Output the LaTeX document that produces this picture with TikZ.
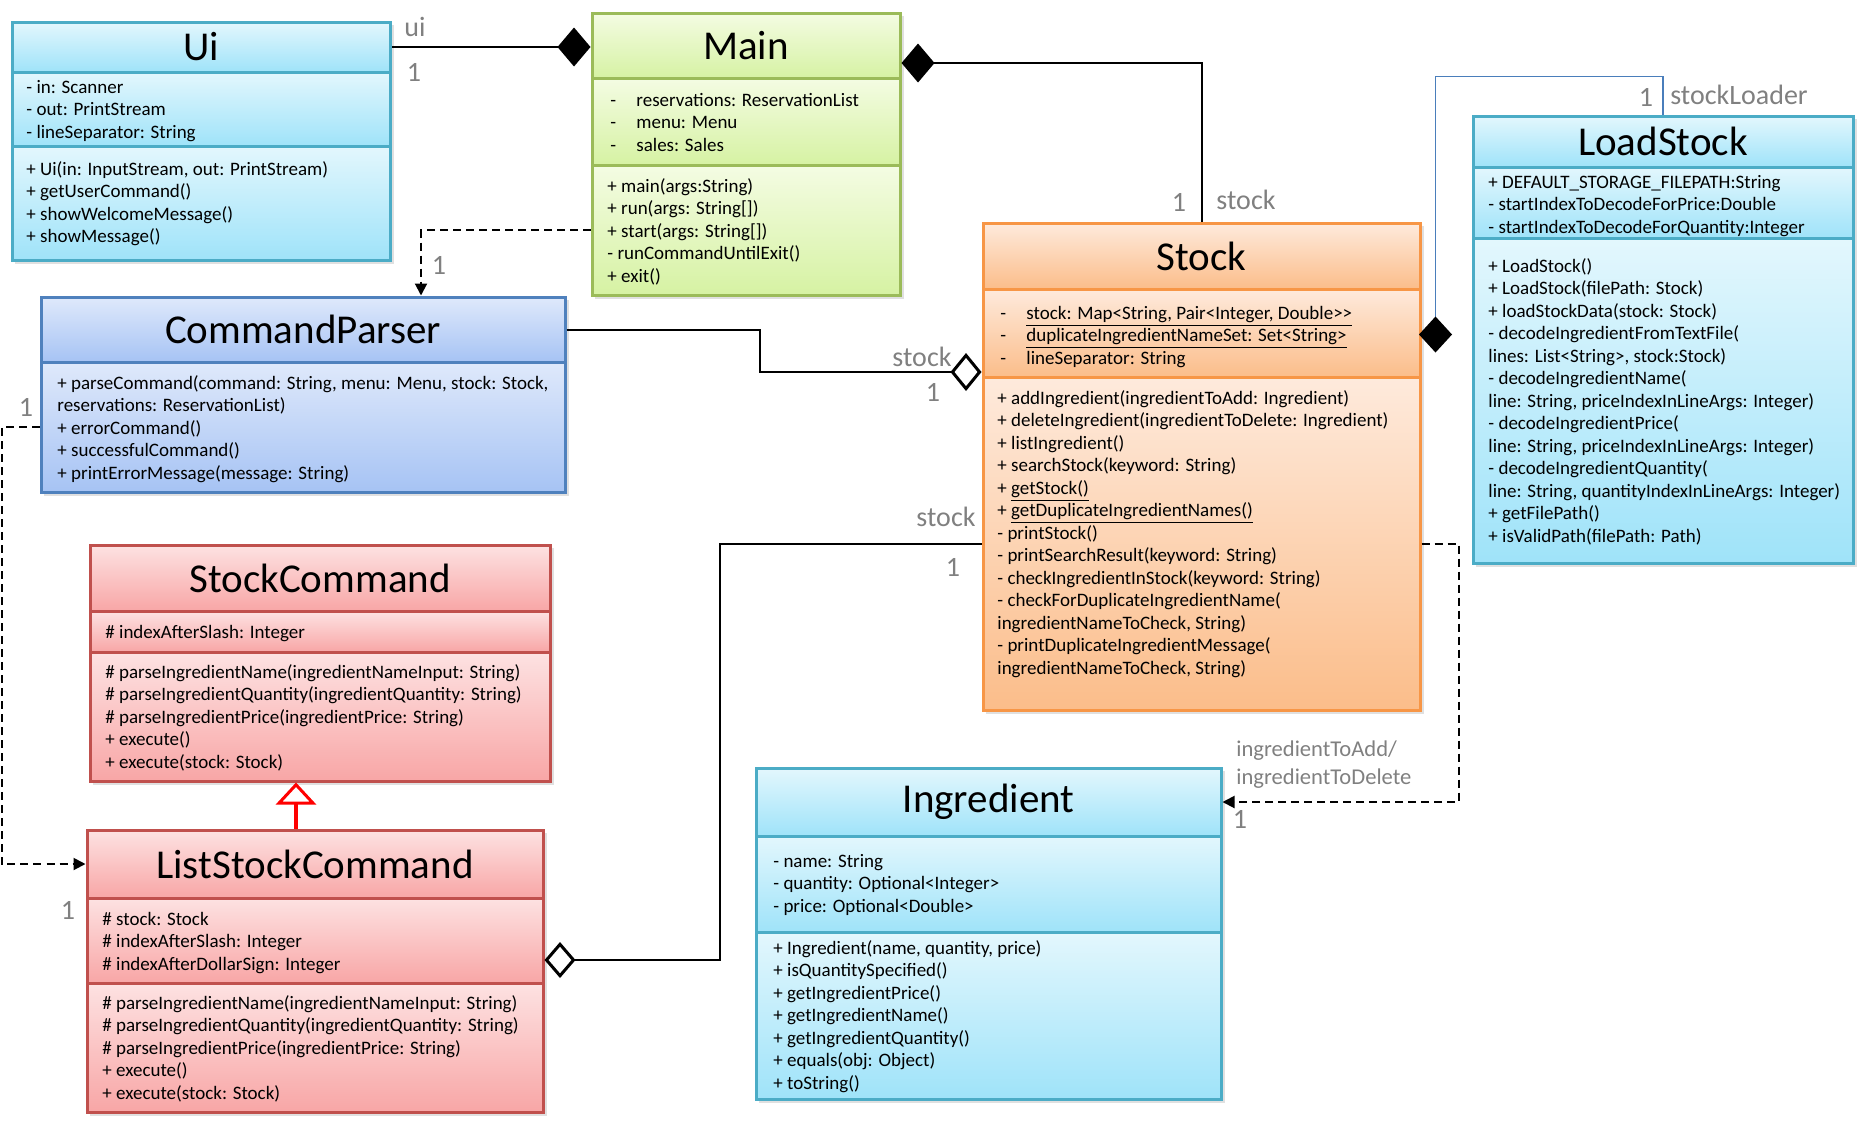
\documentclass[tikz,border=0pt]{standalone}
\usepackage{fontspec}
\setmainfont{Carlito}
\usetikzlibrary{arrows.meta,fit}
\definecolor{cyB}{HTML}{4BACC6}\definecolor{cyT}{HTML}{E3F7FD}\definecolor{cyBo}{HTML}{9FE3F9}
\definecolor{grB}{HTML}{9BBB59}\definecolor{grT}{HTML}{F4FCE3}\definecolor{grBo}{HTML}{D6F2A3}
\definecolor{blB}{HTML}{4F81BD}\definecolor{blT}{HTML}{DFE9FB}\definecolor{blBo}{HTML}{A6C3F4}
\definecolor{rdB}{HTML}{C0504D}\definecolor{rdT}{HTML}{FDE2E2}\definecolor{rdBo}{HTML}{F8A6A6}
\definecolor{orB}{HTML}{F79646}\definecolor{orT}{HTML}{FEEADC}\definecolor{orBo}{HTML}{FBBD8A}
\definecolor{lblgray}{HTML}{808080}
\definecolor{lineblue}{HTML}{4A7EBB}
\newcommand\mlist[4]{\foreach \t [count=\i from 0] in {#4} {\node[member] (#1\i) at (#2, #3+6+\i*22.5) {\t};}}
\newcommand\dsh{\makebox[13pt][l]{-}}
\begin{document}
\begin{tikzpicture}[x=0.5pt,y=-0.5pt,
  sec/.style={draw, line width=1.5pt, inner sep=0pt},
  cysec/.style={sec, draw=cyB, top color=cyT, bottom color=cyBo},
  grsec/.style={sec, draw=grB, top color=grT, bottom color=grBo},
  blsec/.style={sec, draw=blB, top color=blT, bottom color=blBo},
  rdsec/.style={sec, draw=rdB, top color=rdT, bottom color=rdBo},
  orsec/.style={sec, draw=orB, top color=orT, bottom color=orBo},
  ttl/.style={inner sep=0pt, font=\fontsize{20.5}{24}\selectfont},
  member/.style={anchor=base west, inner sep=0pt, font=\fontsize{9.5}{11}\selectfont},
  lbl/.style={inner sep=0pt, text=lblgray, font=\fontsize{14}{16}\selectfont},
  slbl/.style={inner sep=0pt, text=lblgray, font=\fontsize{11.3}{14}\selectfont, anchor=west},
  shad/.style={fill=black, fill opacity=0.12},
  conn/.style={line width=1pt, draw=black},
  dep/.style={conn, dash pattern=on 4pt off 2.5pt, -{Triangle[length=6pt,width=6pt]}},
  inh/.style={line width=2.3pt, draw=red, -{Triangle[open,length=11pt,width=20pt,line width=1.5pt]}}
]
\useasboundingbox (0,0) rectangle (1861,1126);
% shadows
\fill[shad] (15,25) rectangle (394,264);
\fill[shad] (595,16) rectangle (904,299);
\fill[shad] (44,300) rectangle (569,496);
\fill[shad] (93,548) rectangle (554,785);
\fill[shad] (90,833) rectangle (547,1116);
\fill[shad] (986,226) rectangle (1424,714);
\fill[shad] (1476,119) rectangle (1857,567);
\fill[shad] (759,771) rectangle (1225,1103);
% Ui
\node[cysec, fit={(12,22)(390,72)}] (uiT) {};
\node[cysec, fit={(12,72)(390,146)}] (uiA) {};
\node[cysec, fit={(12,146)(390,260)}] (uiM) {};
\node[ttl] (uiTt) at (uiT.center) {Ui};
\mlist{uia}{26}{87}{{- in: Scanner},{- out: PrintStream},{- lineSeparator: String}}
\mlist{uim}{26}{169}{{+ Ui(in: InputStream, out: PrintStream)},{+ getUserCommand()},{+ showWelcomeMessage()},{+ showMessage()}}
% Main
\node[grsec, fit={(592,13)(900,78)}] (mainT) {};
\node[grsec, fit={(592,78)(900,165)}] (mainA) {};
\node[grsec, fit={(592,165)(900,295)}] (mainM) {};
\node[ttl] (mainTt) at (mainT.center) {Main};
\mlist{maina}{610}{100}{{\dsh reservations: ReservationList},{\dsh menu: Menu},{\dsh sales: Sales}}
\mlist{mainm}{607}{186}{{+ main(args:String)},{+ run(args: String[])},{+ start(args: String[])},{- runCommandUntilExit()},{+ exit()}}
% CommandParser
\node[blsec, fit={(41,297)(565,362)}] (cpT) {};
\node[blsec, fit={(41,362)(565,492)}] (cpM) {};
\node[ttl] (cpTt) at (cpT.center) {CommandParser};
\mlist{cpm}{57}{383}{{+ parseCommand(command: String, menu: Menu, stock: Stock,},{reservations: ReservationList)},{+ errorCommand()},{+ successfulCommand()},{+ printErrorMessage(message: String)}}
% StockCommand
\node[rdsec, fit={(90,545)(550,611)}] (scT) {};
\node[rdsec, fit={(90,611)(550,652)}] (scA) {};
\node[rdsec, fit={(90,652)(550,781)}] (scM) {};
\node[ttl] (scTt) at (scT.center) {StockCommand};
\mlist{sca}{105}{632}{{\# indexAfterSlash: Integer}}
\mlist{scm}{105}{672}{{\# parseIngredientName(ingredientNameInput: String)},{\# parseIngredientQuantity(ingredientQuantity: String)},{\# parseIngredientPrice(ingredientPrice: String)},{+ execute()},{+ execute(stock: Stock)}}
% ListStockCommand
\node[rdsec, fit={(87,830)(543,898)}] (lscT) {};
\node[rdsec, fit={(87,898)(543,983)}] (lscA) {};
\node[rdsec, fit={(87,983)(543,1112)}] (lscM) {};
\node[ttl] (lscTt) at (lscT.center) {ListStockCommand};
\mlist{lsca}{102}{919}{{\# stock: Stock},{\# indexAfterSlash: Integer},{\# indexAfterDollarSign: Integer}}
\mlist{lscm}{102}{1003}{{\# parseIngredientName(ingredientNameInput: String)},{\# parseIngredientQuantity(ingredientQuantity: String)},{\# parseIngredientPrice(ingredientPrice: String)},{+ execute()},{+ execute(stock: Stock)}}
% Stock
\node[orsec, fit={(983,223)(1420,289)}] (stockT) {};
\node[orsec, fit={(983,289)(1420,377)}] (stockA) {};
\node[orsec, fit={(983,377)(1420,710)}] (stockM) {};
\node[ttl] (stockTt) at (stockT.center) {Stock};
\mlist{stocka}{1000}{313}{{\dsh\underline{stock: Map<String, Pair<Integer, Double>{}>}},{\dsh\underline{duplicateIngredientNameSet: Set<String>}},{\dsh lineSeparator: String}}
\mlist{stockm}{997}{398}{{+ addIngredient(ingredientToAdd: Ingredient)},{+ deleteIngredient(ingredientToDelete: Ingredient)},{+ listIngredient()},{+ searchStock(keyword: String)},{+ \underline{getStock()}},{+ \underline{getDuplicateIngredientNames()}},{- printStock()},{- printSearchResult(keyword: String)},{- checkIngredientInStock(keyword: String)},{- checkForDuplicateIngredientName(},{ingredientNameToCheck, String)},{- printDuplicateIngredientMessage(},{ingredientNameToCheck, String)}}
% LoadStock
\node[cysec, fit={(1473,116)(1853,167)}] (lsT) {};
\node[cysec, fit={(1473,167)(1853,238)}] (lsA) {};
\node[cysec, fit={(1473,238)(1853,563)}] (lsM) {};
\node[ttl] (lsTt) at (lsT.center) {LoadStock};
\mlist{lsa}{1488}{182}{{+ DEFAULT\_STORAGE\_FILEPATH:String},{- startIndexToDecodeForPrice:Double},{- startIndexToDecodeForQuantity:Integer}}
\mlist{lsm}{1488}{266}{{+ LoadStock()},{+ LoadStock(filePath: Stock)},{+ loadStockData(stock: Stock)},{- decodeIngredientFromTextFile(},{lines: List<String>, stock:Stock)},{- decodeIngredientName(},{line: String, priceIndexInLineArgs: Integer)},{- decodeIngredientPrice(},{line: String, priceIndexInLineArgs: Integer)},{- decodeIngredientQuantity(},{line: String, quantityIndexInLineArgs: Integer)},{+ getFilePath()},{+ isValidPath(filePath: Path)}}
% Ingredient
\node[cysec, fit={(756,768)(1221,836)}] (ingT) {};
\node[cysec, fit={(756,836)(1221,932)}] (ingA) {};
\node[cysec, fit={(756,932)(1221,1099)}] (ingM) {};
\node[ttl] (ingTt) at (ingT.center) {Ingredient};
\mlist{inga}{773}{861}{{- name: String},{- quantity: Optional<Integer>},{- price: Optional<Double>}}
\mlist{ingm}{773}{948}{{+ Ingredient(name, quantity, price)},{+ isQuantitySpecified()},{+ getIngredientPrice()},{+ getIngredientName()},{+ getIngredientQuantity()},{+ equals(obj: Object)},{+ toString()}}
% connectors
\draw[conn, {Diamond[length=16.5pt,width=19.5pt]}-] (mainT.west |- uiT.east) -- (uiT.east);
\draw[conn, {Diamond[length=16.5pt,width=19.5pt]}-] ([yshift=-8.75pt]mainT.east) -| (stockT.north);
\draw[dep] (mainM.west) -| ([xshift=59pt]cpT.north);
\draw[conn, -{Diamond[open,length=15.5pt,width=19pt,line width=1.5pt]}] (cpT.east) -- ++(96.5pt,0) |- ([yshift=-19.5pt]stockA.west);
\draw[dep] (cpM.west) -- ++(-19pt,0) |- (lscT.west);
\draw[inh] ([xshift=-9.5pt]lscT.north) -- ([xshift=-9.5pt]lscT.north |- scM.south);
\draw[conn, {Diamond[open,length=15.5pt,width=18pt,line width=1.5pt]}-] ([yshift=-9.75pt]lscA.east) -- ++(87.5pt,0) |- (stockM.west);
\draw[line width=0.8pt, draw=lineblue, -{Diamond[length=18pt,width=16.5pt,fill=black,color=black]}] (lsT.north) -- ++(0,19pt) -| ([xshift=7pt,yshift=-9.75pt]stockA.east);
\draw[dep] (stockM.east) -- ++(18.5pt,0) |- (ingT.east);
% labels
\node[lbl] (l1) at (415,27) {ui};
\node[lbl] (l2) at (414,72) {1};
\node[lbl] (l3) at (439,265) {1};
\node[lbl] (l4) at (1179,202) {1};
\node[lbl] (l5) at (1246,200) {stock};
\node[lbl] (l6) at (1646,97) {1};
\node[lbl] (l7) at (1739,95) {stockLoader};
\node[lbl] (l8) at (922,357) {stock};
\node[lbl] (l9) at (933,392) {1};
\node[lbl] (l10) at (26,407) {1};
\node[lbl] (l11) at (946,517) {stock};
\node[lbl] (l12) at (953,567) {1};
\node[lbl] (l13) at (68,910) {1};
\node[slbl] (l14) at (1236,751) {ingredientToAdd/};
\node[slbl] (l15) at (1236,779) {ingredientToDelete};
\node[lbl] (l16) at (1240,819) {1};
\end{tikzpicture}
\end{document}
